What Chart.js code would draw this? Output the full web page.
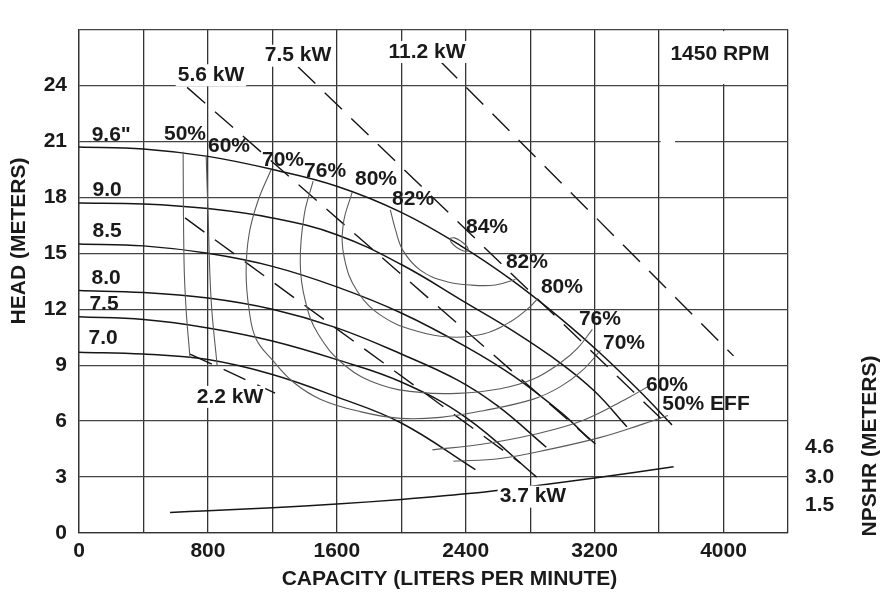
<!DOCTYPE html>
<html>
<head>
<meta charset="utf-8">
<script src="https://cdn.jsdelivr.net/npm/chart.js@4.4.1/dist/chart.umd.min.js"></script>
<style>
    html, body { margin: 0; padding: 0; background: #fff; }
    #wrap { width: 882px; height: 592px; }
</style>
</head>
<body>
<div id="wrap"><canvas id="grafico" width="882" height="592"></canvas></div>
<script>
// ── Dados (vazão em L/min, altura em m) ──
const ticksVazao  = [0, 800, 1600, 2400, 3200, 4000];
const ticksAltura = [0, 3, 6, 9, 12, 15, 18, 21, 24];
const ticksNpshr  = [1.5, 3.0, 4.6];

// curvas dos rotores
const rotor96 = [[0,20.7],[400,20.6],[800,20.2],[1200,19.5],[1600,18.6],[2000,17.2],[2370,15.4],[2680,13.6],[2990,11.5],[3240,9.6],[3480,7.6],[3680,5.8]];
const rotor90 = [[0,17.7],[400,17.65],[800,17.4],[1200,16.9],[1600,16.0],[2000,14.4],[2410,12.3],[2700,10.8],[2990,9.1],[3200,7.6],[3400,5.7]];
const rotor85 = [[0,15.5],[400,15.4],[800,15.0],[1200,14.3],[1600,13.2],[2000,11.8],[2400,10.0],[2700,8.4],[3000,6.4],[3170,5.0]];
const rotor80 = [[0,13.0],[400,12.9],[800,12.6],[1200,12.0],[1600,11.0],[2000,9.6],[2350,8.2],[2600,6.8],[2900,4.6]];
const rotor75 = [[0,11.6],[400,11.45],[800,11.0],[1200,10.3],[1600,9.3],[2000,8.1],[2400,6.2],[2840,3.0]];
const rotor70 = [[0,9.7],[400,9.6],[800,9.3],[1200,8.5],[1600,7.3],[2000,5.9],[2460,3.4]];

// curvas de rendimento
const ef50esq = [[646,20.45],[652,14.5],[665,11.95],[689,9.4]];
const ef50dir = [[2323,3.85],[2615,4.0],[2925,4.5],[3236,5.13],[3484,5.8],[3655,6.3]];
const ef60esq = [[789,20.25],[801,17.1],[820,12.5],[857,9.0]];
const ef60dir = [[2193,4.46],[2509,4.77],[2820,5.28],[3130,6.05],[3404,7.23],[3540,7.9]];
const ef70 = [[1193,19.5],[1112,17.85],[1056,16.05],[1037,14.0],[1056,11.95],[1099,10.41],[1205,9.23],[1329,8.1],[1497,7.18],[1745,6.51],[1994,6.15],[2242,6.2],[2509,6.56],[2820,7.18],[2988,7.85],[3124,8.72],[3236,9.79]];
const ef76 = [[1453,18.87],[1398,17.08],[1373,14.51],[1404,12.46],[1484,10.67],[1652,8.97],[1870,7.95],[2118,7.54],[2348,7.49],[2615,7.74],[2820,8.26],[2988,9.13],[3093,9.9],[3186,10.92]];
const ef80 = [[1696,18.3],[1640,16.56],[1646,14.77],[1727,12.97],[1888,11.59],[2099,10.82],[2304,10.51],[2509,10.67],[2677,11.33],[2801,12.15],[2845,12.56]];
const ef82 = [[1932,17.33],[1963,16.3],[2012,15.13],[2118,14.1],[2273,13.5],[2429,13.3],[2584,13.3],[2708,13.6]];
const ef84 = [[2303,15.81],[2309,15.6],[2344,15.31],[2387,15.13],[2413,15.15],[2408,15.36],[2372,15.64],[2330,15.83],[2303,15.81]];

// potência (kW)
const kw22  = [[689,9.6],[1217,7.5]];
const kw37  = [[658,16.9],[2740,3.75]];
const kw56  = [[671,23.9],[3255,4.4]];
const kw75  = [[1360,25.0],[3652,5.8]];
const kw112 = [[2242,25.3],[4062,9.5]];

// NPSHR
const npshr = [[565,1.1],[800,1.2],[1200,1.35],[1600,1.55],[2000,1.8],[2400,2.1],[2800,2.5],[3200,2.95],[3690,3.55]];

// ── Rótulos ──
const rotulos = [
    { t: '9.6"', q: 200, h: 21.35 },
    { t: "9.0", q: 175, h: 18.4 },
    { t: "8.5", q: 175, h: 16.2 },
    { t: "8.0", q: 168, h: 13.65 },
    { t: "7.5", q: 155, h: 12.25 },
    { t: "7.0", q: 150, h: 10.45 },
    { t: "50%", q: 658, h: 21.4 },
    { t: "60%", q: 931, h: 20.75 },
    { t: "70%", q: 1266, h: 20.0 },
    { t: "76%", q: 1527, h: 19.4 },
    { t: "80%", q: 1843, h: 19.0 },
    { t: "82%", q: 2073, h: 17.9 },
    { t: "84%", q: 2532, h: 16.4 },
    { t: "82%", q: 2780, h: 14.5 },
    { t: "80%", q: 2997, h: 13.2 },
    { t: "76%", q: 3233, h: 11.45 },
    { t: "70%", q: 3382, h: 10.2 },
    { t: "60%", q: 3649, h: 7.95 },
    { t: "50% EFF", q: 3891, h: 6.93 },
    { t: "5.6 kW", q: 819, h: 24.55, fundo: true },
    { t: "7.5 kW", q: 1359, h: 25.6, fundo: true },
    { t: "11.2 kW", q: 2160, h: 25.8, fundo: true },
    { t: "3.7 kW", q: 2817, h: 1.95, fundo: true },
    { t: "2.2 kW", q: 937, h: 7.3, fundo: true },
    { t: "1450 RPM", q: 3978, h: 25.7 },
];

const FONTE = '"Liberation Sans", Arial, sans-serif';
const PRETO = "#161616";
const CINZA = "#5a5a5a";

function serie(pontos, estilo) {
    return Object.assign({
        data: pontos.map(p => ({ x: p[0], y: p[1] })),
        showLine: true,
        pointRadius: 0,
        pointHoverRadius: 0,
        fill: false,
        borderColor: PRETO,
        borderWidth: 1.5,
        tension: 0.4,
    }, estilo);
}

const rendimento = { borderColor: CINZA, borderWidth: 1.1 };
const potencia   = { borderDash: [24, 13], tension: 0, borderWidth: 1.4 };

const datasets = [
    ...[ef50esq, ef50dir, ef60esq, ef60dir, ef70, ef76, ef80, ef82, ef84].map(s => serie(s, rendimento)),
    ...[rotor96, rotor90, rotor85, rotor80, rotor75, rotor70].map(s => serie(s)),
    ...[kw22, kw37, kw56, kw75, kw112].map(s => serie(s, potencia)),
    serie(npshr, { tension: 0.3 }),
];

// ── Plugins de desenho ──
const mascara = {
    id: "mascara",
    beforeDatasetsDraw(chart) {
        const { ctx, scales: { x, y } } = chart;
        ctx.save();
        ctx.fillStyle = "#fff";
        // caixa do "1450 RPM" sem a linha de 4000
        const px = x.getPixelForValue(4000);
        ctx.fillRect(px - 2, y.getPixelForValue(27) + 1.5, 4, y.getPixelForValue(24) - y.getPixelForValue(27) - 3);
        // pequena falha na linha de 21 m
        ctx.fillRect(x.getPixelForValue(3600) + 1.5, y.getPixelForValue(21) - 2, x.getPixelForValue(3690) - x.getPixelForValue(3600), 4);
        ctx.restore();
    }
};

const textos = {
    id: "textos",
    afterDatasetsDraw(chart) {
        const { ctx, chartArea: ca, scales: { x, y } } = chart;
        ctx.save();
        ctx.textAlign = "center";
        ctx.textBaseline = "middle";
        ctx.font = "bold 21px " + FONTE;
        rotulos.forEach(r => {
            const px = x.getPixelForValue(r.q);
            const py = y.getPixelForValue(r.h);
            if (r.fundo) {
                const w = ctx.measureText(r.t).width;
                ctx.fillStyle = "#fff";
                ctx.fillRect(px - w / 2 - 2, py - 11, w + 4, 22);
            }
            ctx.fillStyle = "#1a1a1a";
            ctx.fillText(r.t, px, py);
        });

        // títulos dos eixos
        ctx.font = "bold 21px " + FONTE;
        ctx.fillText("CAPACITY (LITERS PER MINUTE)", (ca.left + ca.right) / 2 + 16, ca.bottom + 46);

        ctx.save();
        ctx.translate(ca.left - 60, 241);
        ctx.rotate(-Math.PI / 2);
        ctx.fillText("HEAD (METERS)", 0, 0);
        ctx.restore();

        ctx.save();
        ctx.translate(ca.right + 82, 446);
        ctx.rotate(-Math.PI / 2);
        ctx.fillText("NPSHR (METERS)", 0, 0);
        ctx.restore();

        ctx.restore();
    }
};

const fonteTick = { family: FONTE, size: 21, weight: "bold" };

new Chart(document.getElementById("grafico"), {
    type: "scatter",
    data: { datasets },
    plugins: [mascara, textos],
    options: {
        responsive: false,
        animation: false,
        events: [],
        layout: { padding: { top: 7, left: 0, right: 0, bottom: 0 } },
        plugins: { legend: { display: false }, tooltip: { enabled: false } },
        scales: {
            x: {
                type: "linear",
                position: "bottom",
                min: 0, max: 4400,
                afterBuildTicks: s => {
                    const t = [];
                    for (let v = 0; v <= 4400; v += 400) t.push({ value: v });
                    s.ticks = t;
                },
                afterFit: s => { s.height = 59; },
                ticks: {
                    padding: 6,
                    color: "#1a1a1a",
                    font: fonteTick,
                    maxRotation: 0,
                    autoSkip: false,
                    callback: v => ticksVazao.includes(v) ? String(v) : "",
                },
                grid: { color: "#333", lineWidth: 1.3, drawTicks: false },
                border: { color: "#333", width: 1.3 },
            },
            y: {
                position: "left",
                min: 0, max: 27,
                afterBuildTicks: s => {
                    const t = [];
                    for (let v = 0; v <= 27; v += 3) t.push({ value: v });
                    s.ticks = t;
                },
                afterFit: s => { s.width = 79; },
                ticks: {
                    padding: 12,
                    color: "#1a1a1a",
                    font: fonteTick,
                    autoSkip: false,
                    callback: v => ticksAltura.includes(v) ? String(v) : "",
                },
                grid: { color: "#444", lineWidth: 1.3, drawTicks: false },
                border: { color: "#333", width: 1.3 },
            },
            y2: {
                position: "right",
                min: 0, max: 27,
                afterBuildTicks: s => { s.ticks = ticksNpshr.map(v => ({ value: v })); },
                afterFit: s => { s.width = 94; },
                ticks: {
                    padding: 17,
                    color: "#1a1a1a",
                    font: fonteTick,
                    autoSkip: false,
                    callback: v => v.toFixed(1),
                },
                grid: { display: false, drawTicks: false },
                border: { display: false },
            },
        },
    },
});
</script>
</body>
</html>
